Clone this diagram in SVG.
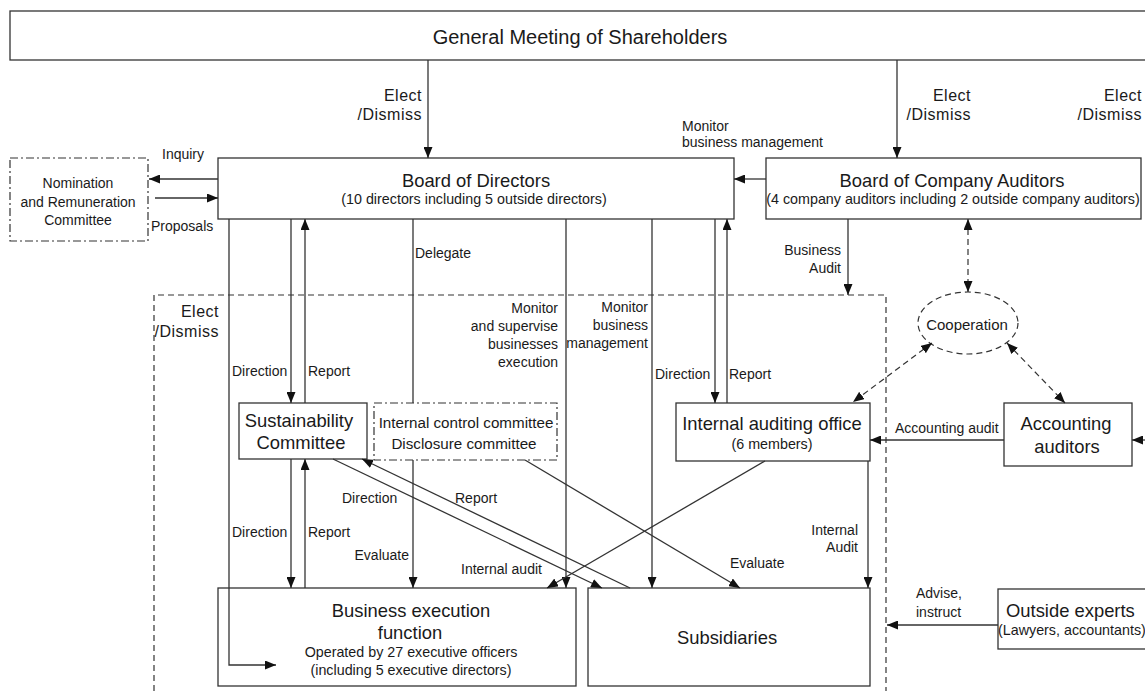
<svg xmlns="http://www.w3.org/2000/svg" width="1145" height="691" viewBox="0 0 1145 691">
<style>
text{font-family:"Liberation Sans",Arial,sans-serif;fill:#1a1a1a}
.big{font-size:18.4px}
.gm{font-size:20px}
.sub{font-size:14.3px}
.lb{font-size:14px}
.el{font-size:16px;letter-spacing:0.5px}
.ic{font-size:15.2px}
.box{fill:#fff;stroke:#333;stroke-width:1.3}
.dd{fill:#fff;stroke:#333;stroke-width:1.2;stroke-dasharray:8 3 2 3}
.dash{fill:none;stroke:#333;stroke-width:1.2;stroke-dasharray:6 4}
.ln{fill:none;stroke:#333;stroke-width:1.3}
.m{text-anchor:middle}
.r{text-anchor:end}
</style>
<defs>
<marker id="ah" viewBox="0 0 11 9" refX="11" refY="4.5" markerWidth="11" markerHeight="9" markerUnits="userSpaceOnUse" orient="auto-start-reverse">
<path d="M0,0 L11,4.5 L0,9 z" fill="#111"/>
</marker>
</defs>
<rect width="1145" height="691" fill="#fff"/>

<g id="gm">
<rect class="box" x="10" y="11" width="1145" height="49"/>
<text class="gm m" x="580" y="44">General Meeting of Shareholders</text>
</g>

<g id="nomination">
<rect class="dd" x="10" y="158" width="138" height="83"/>
<text class="lb m" x="78" y="188">Nomination</text>
<text class="lb m" x="78" y="207">and Remuneration</text>
<text class="lb m" x="78" y="225">Committee</text>
</g>

<g id="board">
<rect class="box" x="218" y="158" width="516" height="61"/>
<text class="big m" x="476" y="187">Board of Directors</text>
<text class="sub m" x="474" y="204">(10 directors including 5 outside directors)</text>
</g>

<g id="bca">
<rect class="box" x="766" y="158" width="375" height="61"/>
<text class="big m" x="952" y="187">Board of Company Auditors</text>
<text class="sub m" x="953" y="204">(4 company auditors including 2 outside company auditors)</text>
</g>

<g id="region">
<path class="dash" d="M154,691 V295 H886 V691"/>
</g>

<g id="cooperation">
<ellipse class="dash" cx="968" cy="323" rx="50" ry="31" style="fill:#fff"/>
<text class="lb m" x="967" y="330" style="font-size:15px">Cooperation</text>
</g>

<g id="sustainability">
<rect class="box" x="239" y="403" width="128" height="56"/>
<text class="big m" x="299" y="427">Sustainability</text>
<text class="big m" x="301" y="449">Committee</text>
</g>

<g id="internal-control">
<rect class="dd" x="374" y="403" width="183" height="57"/>
<text class="ic m" x="466" y="428">Internal control committee</text>
<text class="ic m" x="464" y="449">Disclosure committee</text>
</g>

<g id="iao">
<rect class="box" x="676" y="403" width="194" height="58"/>
<text class="big m" x="772" y="430">Internal auditing office</text>
<text class="sub m" x="772" y="449">(6 members)</text>
</g>

<g id="accounting">
<rect class="box" x="1004" y="403" width="128" height="63"/>
<text class="big m" x="1066" y="430">Accounting</text>
<text class="big m" x="1067" y="453">auditors</text>
</g>

<g id="business">
<rect class="box" x="218" y="588" width="358" height="98"/>
<text class="big m" x="411" y="617">Business execution</text>
<text class="big m" x="410" y="639">function</text>
<text class="sub m" x="411" y="657">Operated by 27 executive officers</text>
<text class="sub m" x="411" y="675">(including 5 executive directors)</text>
</g>

<g id="subsidiaries">
<rect class="box" x="588" y="588" width="282" height="98"/>
<text class="big m" x="727" y="644">Subsidiaries</text>
</g>

<g id="outside">
<rect class="box" x="998" y="589" width="160" height="60"/>
<text class="big" x="1006" y="617">Outside experts</text>
<text class="sub" x="998" y="635">(Lawyers, accountants)</text>
</g>

<g id="connectors" marker-end="url(#ah)">
<path class="ln" d="M428,60 V158"/>
<path class="ln" d="M897,60 V158"/>
<path class="ln" d="M766,179 H734"/>
<path class="ln" d="M218,179 H149"/>
<path class="ln" d="M155,198 H218"/>
<path class="ln" d="M229,219 V665 H276"/>
<path class="ln" d="M291,219 V403"/>
<path class="ln" d="M305,403 V219"/>
<path class="ln" d="M413,219 V403" marker-end="none"/>
<path class="ln" d="M566,219 V588"/>
<path class="ln" d="M652,219 V588"/>
<path class="ln" d="M715,219 V403"/>
<path class="ln" d="M727,403 V219"/>
<path class="ln" d="M848,219 V295"/>
<path class="dash" d="M968,219 V292" marker-start="url(#ah)"/>
<path class="dash" d="M932,343 L853,402" marker-start="url(#ah)"/>
<path class="dash" d="M1007,343 L1065,403" marker-start="url(#ah)"/>
<path class="ln" d="M1004,440 H870"/>
<path class="ln" d="M1150,440 H1132"/>
<path class="ln" d="M291,459 V588"/>
<path class="ln" d="M305,588 V459"/>
<path class="ln" d="M413,460 V588"/>
<path class="ln" d="M333,459 L602,588"/>
<path class="ln" d="M630,588 L362,459"/>
<path class="ln" d="M525,460 L740,588"/>
<path class="ln" d="M765,461 L547,588"/>
<path class="ln" d="M868,461 V588"/>
<path class="ln" d="M998,625 H887"/>
</g>

<g id="labels">
<text class="el r" x="422" y="101">Elect</text>
<text class="el r" x="422" y="120">/Dismiss</text>
<text class="el r" x="971" y="101">Elect</text>
<text class="el r" x="971" y="120">/Dismiss</text>
<text class="el r" x="1142" y="101">Elect</text>
<text class="el r" x="1142" y="120">/Dismiss</text>
<text class="lb" x="682" y="131">Monitor</text>
<text class="lb" x="682" y="147">business management</text>
<text class="lb" x="162" y="159">Inquiry</text>
<text class="lb" x="151" y="231">Proposals</text>
<text class="lb" x="415" y="258">Delegate</text>
<text class="lb r" x="841" y="255">Business</text>
<text class="lb r" x="841" y="273">Audit</text>
<text class="el r" x="219" y="317">Elect</text>
<text class="el r" x="219" y="337">/Dismiss</text>
<text class="lb r" x="558" y="313">Monitor</text>
<text class="lb r" x="558" y="331">and supervise</text>
<text class="lb r" x="558" y="349">businesses</text>
<text class="lb r" x="558" y="367">execution</text>
<text class="lb r" x="648" y="312">Monitor</text>
<text class="lb r" x="648" y="330">business</text>
<text class="lb r" x="648" y="348">management</text>
<text class="lb" x="232" y="376">Direction</text>
<text class="lb" x="308" y="376">Report</text>
<text class="lb" x="655" y="379">Direction</text>
<text class="lb" x="729" y="379">Report</text>
<text class="lb" x="895" y="433">Accounting audit</text>
<text class="lb" x="342" y="503">Direction</text>
<text class="lb" x="455" y="503">Report</text>
<text class="lb" x="232" y="537">Direction</text>
<text class="lb" x="308" y="537">Report</text>
<text class="lb r" x="409" y="560">Evaluate</text>
<text class="lb" x="461" y="574">Internal audit</text>
<text class="lb" x="730" y="568">Evaluate</text>
<text class="lb r" x="858" y="535">Internal</text>
<text class="lb r" x="858" y="552">Audit</text>
<text class="lb" x="916" y="598">Advise,</text>
<text class="lb" x="916" y="617">instruct</text>
</g>
</svg>
